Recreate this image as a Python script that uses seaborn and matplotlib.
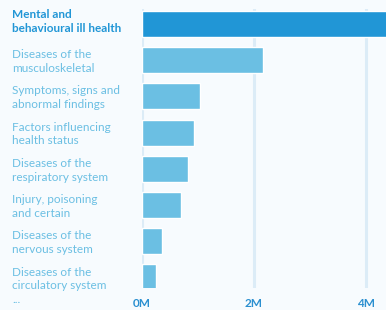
import pandas as pd
import numpy as np
import matplotlib.pyplot as plt
import seaborn as sns

# Sick-note counts by diagnosis group (millions)
categories = [
    "Mental and\nbehavioural ill health",
    "Diseases of the\nmusculoskeletal",
    "Symptoms, signs and\nabnormal findings",
    "Factors influencing\nhealth status",
    "Diseases of the\nrespiratory system",
    "Injury, poisoning\nand certain",
    "Diseases of the\nnervous system",
    "Diseases of the\ncirculatory system\n...",
]
values = [4.6, 2.16, 1.04, 0.93, 0.82, 0.70, 0.36, 0.25]
tick_values = [0, 2, 4]
tick_labels = ["0M", "2M", "4M"]

bg = "#f7fbfe"
dark_blue = "#2196d6"
light_blue = "#6bbfe3"
grid_col = "#dcecf7"

df = pd.DataFrame({"category": categories, "value": values})
df["highlight"] = ["top"] + ["rest"] * (len(df) - 1)

sns.set_theme(style="white")
plt.rcParams["font.family"] = ["Lato", "DejaVu Sans"]

fig = plt.figure(figsize=(3.86, 3.10), dpi=100, facecolor=bg)
ax = fig.add_axes([142 / 386, 1 - 288 / 310, 1 - 142 / 386, (288 - 9) / 310])
ax.set_facecolor(bg)

sns.barplot(data=df, y="category", x="value", hue="highlight",
            palette={"top": dark_blue, "rest": light_blue}, saturation=1,
            orient="h", width=0.72, legend=False, ax=ax, zorder=3)

ax.set_xlim(0, 4.36)
ax.set_ylim(7.29, -0.41)
ax.set_xticks(tick_values)
ax.set_xticklabels(tick_labels, fontsize=8.5, fontweight="bold", color="#2a8fd0")
ax.tick_params(axis="x", length=0, pad=7)
ax.set_yticks([])
ax.set_xlabel("")
ax.set_ylabel("")
for s in ax.spines.values():
    s.set_visible(False)
for v in tick_values:
    ax.axvline(v, color=grid_col, lw=2.2, zorder=1)

# category labels, left aligned near the figure edge
for i, lab in enumerate(categories):
    first = i == 0
    ax.annotate(lab, xy=(12 / 386, i - (0.40 if first else 0.30)),
                xycoords=(fig.transFigure, ax.transData),
                ha="left", va="top", fontsize=8.5, linespacing=1.3,
                color=dark_blue if first else light_blue,
                fontweight="bold" if first else "normal",
                annotation_clip=False)

fig.savefig("out.png", dpi=100, facecolor=bg)
